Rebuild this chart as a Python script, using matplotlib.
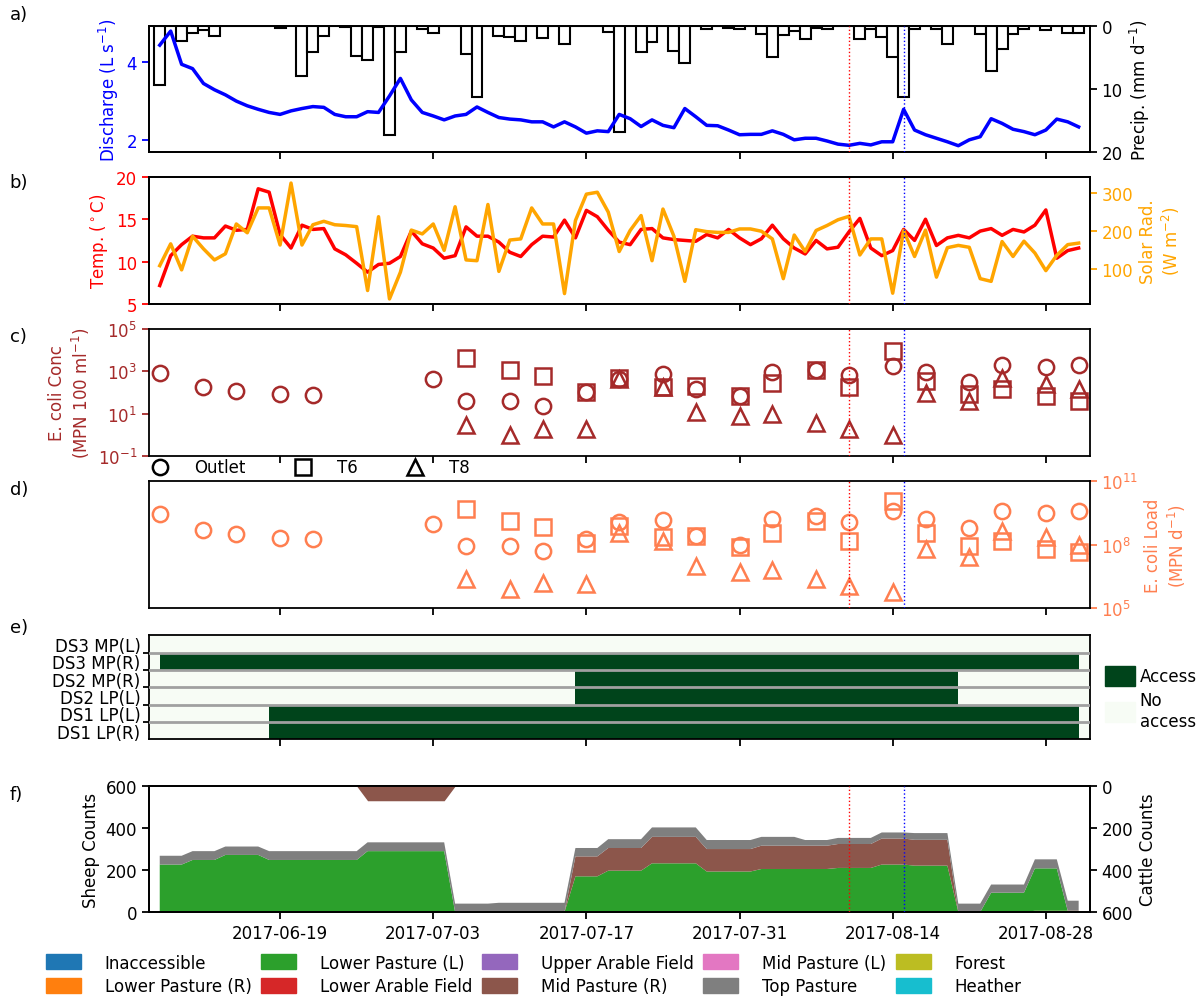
import numpy as np
import pandas as pd
import matplotlib
matplotlib.use("Agg")
import matplotlib.pyplot as plt
import matplotlib.dates as mdates
from matplotlib.patches import Patch
from matplotlib.lines import Line2D
from matplotlib.ticker import NullLocator

plt.rcParams["font.family"] = ["DejaVu Sans"]
plt.rcParams["font.size"] = 12
plt.rcParams["axes.linewidth"] = 1.3
plt.rcParams["xtick.major.width"] = 1.3
plt.rcParams["ytick.major.width"] = 1.3
plt.rcParams["xtick.major.size"] = 5
plt.rcParams["ytick.major.size"] = 5

#%% daily data (2017-06-08 .. 2017-08-31)
dates = pd.date_range("2017-06-08", "2017-08-31", freq="D")

discharge = [4.43, 4.79, 3.94, 3.83, 3.45, 3.29, 3.16, 3.00, 2.88, 2.79,
             2.71, 2.66, 2.75, 2.81, 2.86, 2.84, 2.66, 2.60, 2.60, 2.73,
             2.71, 3.13, 3.58, 3.03, 2.71, 2.62, 2.52, 2.62, 2.66, 2.85,
             2.71, 2.58, 2.54, 2.52, 2.47, 2.47, 2.34, 2.47, 2.34, 2.18,
             2.24, 2.22, 2.66, 2.55, 2.35, 2.52, 2.38, 2.32, 2.81, 2.60,
             2.38, 2.37, 2.26, 2.14, 2.15, 2.15, 2.24, 2.15, 2.01, 2.05,
             2.05, 1.98, 1.90, 1.87, 1.92, 1.88, 1.96, 1.96, 2.79, 2.26,
             2.14, 2.05, 1.96, 1.86, 2.01, 2.09, 2.55, 2.43, 2.28, 2.22,
             2.14, 2.26, 2.54, 2.47, 2.34]

precip = [9.3, 0, 2.4, 1.1, 0.6, 1.6, 0, 0, 0, 0,
          0, 0.3, 0, 7.9, 4.1, 1.6, 0, 0.2, 4.8, 5.4,
          0.2, 17.3, 4.1, 0, 0.4, 1.1, 0, 0, 4.4, 11.3,
          0, 1.6, 1.7, 2.4, 0, 1.9, 0, 2.8, 0, 0,
          0, 0.9, 16.9, 0, 4.1, 2.6, 0, 3.9, 5.9, 0,
          0.5, 0, 0.3, 0.5, 0, 1.3, 4.9, 1.5, 0.8, 2.0,
          0.3, 0.5, 0, 0, 2.0, 0.4, 1.7, 4.9, 11.3, 0.4,
          0, 0.5, 2.8, 0, 0, 1.2, 7.2, 3.6, 1.3, 0.4,
          0, 0.6, 0, 1.1, 1.1]

temp = [7.17, 10.7, 12.0, 13.0, 12.8, 12.8, 14.2, 13.7, 13.8, 18.6,
        18.2, 13.2, 11.6, 14.3, 13.8, 13.9, 11.5, 10.8, 9.8, 8.75,
        9.66, 9.8, 10.6, 13.6, 12.1, 11.6, 10.4, 10.7, 14.1, 13.0,
        13.0, 12.3, 11.1, 10.6, 12.0, 13.0, 12.9, 14.9, 12.8, 16.05,
        15.3, 13.7, 12.3, 12.0, 13.8, 13.9, 12.8, 12.6, 12.5, 12.4,
        13.2, 12.8, 13.8, 12.8, 12.0, 12.7, 14.3, 12.7, 11.6, 10.9,
        12.5, 11.5, 11.7, 13.5, 15.1, 11.6, 10.7, 11.3, 13.8, 12.5,
        15.0, 11.9, 12.8, 13.1, 12.8, 13.6, 13.9, 13.1, 13.8, 13.5,
        14.3, 16.1, 10.4, 11.3, 11.6]

solar = [110, 167, 99, 187, 154, 125, 141, 219, 196, 261,
         261, 164, 326, 164, 217, 226, 217, 215, 212, 45,
         238, 23, 93, 203, 193, 219, 150, 264, 125, 123,
         270, 95, 177, 180, 261, 219, 219, 37, 228, 297,
         302, 250, 147, 202, 241, 123, 258, 187, 69, 204,
         199, 197, 197, 206, 206, 200, 180, 76, 190, 147,
         202, 215, 230, 239, 138, 180, 180, 38, 202, 134,
         203, 80, 157, 163, 158, 76, 69, 173, 134, 174,
         143, 97, 137, 165, 169]

#%% E. coli sampling
sample_dates = ["2017-06-08", "2017-06-12", "2017-06-15", "2017-06-19", "2017-06-22",
                "2017-07-03", "2017-07-06", "2017-07-10", "2017-07-13", "2017-07-17",
                "2017-07-20", "2017-07-24", "2017-07-27", "2017-07-31", "2017-08-03",
                "2017-08-07", "2017-08-10", "2017-08-14", "2017-08-17", "2017-08-21",
                "2017-08-24", "2017-08-28", "2017-08-31"]
trib_dates = sample_dates[6:]

conc_outlet = [790, 174, 120, 83, 74, 457, 40, 40, 23, 100, 450, 740, 154, 65,
               890, 1170, 660, 1820, 890, 330, 1950, 1620, 1950]
conc_t6 = [4070, 1170, 570, 100, 500, 174, 204, 69, 295, 1170, 174, 9300, 355,
           83, 145, 65, 40]
conc_t8 = [2.8, 0.95, 1.8, 1.8, 430, 174, 12, 7.7, 9.3, 3.8, 1.8, 0.95, 93, 40,
           510, 245, 145]

load_outlet = [2.9e9, 5.0e8, 3.1e8, 2.0e8, 1.8e8, 9.8e8, 8.7e7, 8.7e7, 4.8e7, 1.8e8,
               1.1e9, 1.5e9, 2.6e8, 9.3e7, 1.6e9, 2.2e9, 1.1e9, 3.9e9, 1.6e9, 5.8e8,
               3.9e9, 3.2e9, 3.9e9]
load_t6 = [4.7e9, 1.3e9, 6.5e8, 1.2e8, 7.6e8, 2.2e8, 2.6e8, 7.9e7, 3.7e8, 1.3e9,
           1.5e8, 1.15e10, 3.5e8, 8.1e7, 1.5e8, 6.2e7, 4.6e7]
load_t8 = [2.4e6, 8.1e5, 1.5e6, 1.4e6, 3.7e8, 1.5e8, 1.0e7, 4.9e6, 6.3e6, 2.4e6,
           1.1e6, 5.6e5, 6.2e7, 2.5e7, 4.5e8, 2.2e8, 1.0e8]

#%% field access
access_rows = ["DS3 MP(L)", "DS3 MP(R)", "DS2 MP(R)", "DS2 LP(L)", "DS1 LP(L)", "DS1 LP(R)"]
access_start = [None, "2017-06-08", "2017-07-16", "2017-07-16", "2017-06-18", "2017-06-18"]
access_end = [None, "2017-08-31", "2017-08-20", "2017-08-20", "2017-08-31", "2017-08-31"]

#%% livestock counts
categories = ["Inaccessible", "Lower Pasture (R)", "Lower Pasture (L)", "Lower Arable Field",
              "Upper Arable Field", "Mid Pasture (R)", "Mid Pasture (L)", "Top Pasture",
              "Forest", "Heather"]

sheep_lower_l = [226, 226, 226, 248, 248, 248, 272, 272, 272, 272,
                 248, 248, 248, 248, 248, 248, 248, 248, 248, 290,
                 290, 290, 290, 290, 290, 290, 290, 0, 0, 0,
                 0, 0, 0, 0, 0, 0, 0, 0, 170, 170,
                 170, 197, 197, 197, 197, 232, 232, 232, 232, 232,
                 193, 193, 193, 193, 193, 205, 205, 205, 205, 205,
                 205, 205, 210, 210, 210, 210, 226, 226, 226, 221,
                 221, 221, 221, 0, 0, 0, 92, 92, 92, 92,
                 202, 202, 202, 0, 0]
sheep_lower_r = [0, 0, 0, 0, 0, 0, 0, 0, 0, 0,
                 0, 0, 0, 0, 0, 0, 0, 0, 0, 0,
                 0, 0, 0, 0, 0, 0, 0, 0, 0, 0,
                 0, 0, 0, 0, 0, 0, 0, 0, 0, 0,
                 0, 0, 0, 0, 0, 0, 0, 0, 0, 0,
                 0, 0, 0, 0, 0, 0, 0, 0, 0, 0,
                 0, 0, 0, 0, 0, 0, 0, 0, 0, 0,
                 0, 0, 0, 0, 0, 0, 0, 0, 0, 0,
                 6, 6, 6, 6, 6]
sheep_mid_r = [0, 0, 0, 0, 0, 0, 0, 0, 0, 0,
               0, 0, 0, 0, 0, 0, 0, 0, 0, 0,
               0, 0, 0, 0, 0, 0, 0, 0, 0, 0,
               0, 0, 0, 0, 0, 0, 0, 0, 95, 95,
               95, 108, 108, 108, 108, 126, 126, 126, 126, 126,
               107, 107, 107, 107, 107, 111, 111, 111, 111, 111,
               111, 111, 114, 114, 114, 114, 124, 124, 124, 123,
               123, 123, 123, 0, 0, 0, 0, 0, 0, 0,
               0, 0, 0, 0, 0]
sheep_top = [42, 42, 42, 42, 42, 42, 40, 40, 40, 40,
             42, 42, 42, 42, 42, 42, 42, 42, 42, 42,
             42, 42, 42, 42, 42, 42, 42, 40, 40, 40,
             40, 44, 44, 44, 44, 44, 44, 44, 40, 40,
             40, 42, 42, 42, 42, 45, 45, 45, 45, 45,
             43, 43, 43, 43, 43, 42, 42, 42, 42, 27,
             27, 27, 29, 29, 29, 29, 29, 29, 29, 32,
             32, 32, 32, 40, 40, 40, 39, 39, 39, 39,
             43, 43, 43, 48, 48]
cattle_mid_r = [0, 0, 0, 0, 0, 0, 0, 0, 0, 0,
                0, 0, 0, 0, 0, 0, 0, 0, 0, 70,
                70, 70, 70, 70, 70, 70, 70, 0, 0, 0,
                0, 0, 0, 0, 0, 0, 0, 0, 0, 0,
                0, 0, 0, 0, 0, 0, 0, 0, 0, 0,
                0, 0, 0, 0, 0, 0, 0, 0, 0, 0,
                0, 0, 0, 0, 0, 0, 0, 0, 0, 0,
                0, 0, 0, 0, 0, 0, 0, 0, 0, 0,
                0, 0, 0, 0, 0]

tick_dates = ["2017-06-19", "2017-07-03", "2017-07-17", "2017-07-31", "2017-08-14", "2017-08-28"]
event_dates = ["2017-08-10", "2017-08-15"]
event_colors = ["red", "blue"]

#%% plotting
x = mdates.date2num(dates)
sx = mdates.date2num(pd.to_datetime(sample_dates))
tx = mdates.date2num(pd.to_datetime(trib_dates))
ex = mdates.date2num(pd.to_datetime(event_dates))
xlim = mdates.date2num(pd.to_datetime(["2017-06-07", "2017-09-01"]))

brown = "#a52a2a"
coral = "#ff7f50"
access_color = "#00441b"
no_access_color = "#f7fcf5"
tab10 = plt.get_cmap("tab10").colors

fig = plt.figure(figsize=(12, 10.03), dpi=100)
L, W = 0.124, 0.784
ax_a = fig.add_axes([L, 0.8475, W, 0.1256])
ax_b = fig.add_axes([L, 0.696, W, 0.1266])
ax_c = fig.add_axes([L, 0.5444, W, 0.1266])
ax_d = fig.add_axes([L, 0.3928, W, 0.1266])
ax_e = fig.add_axes([L, 0.262, W, 0.1037])
ax_f = fig.add_axes([L, 0.0897, W, 0.1256])


def vlines(ax):
    for xv, c in zip(ex, event_colors):
        ax.axvline(xv, color=c, ls=":", lw=1, zorder=5)


# a) discharge + precip
ax_a2 = ax_a.twinx()
ax_a2.bar(x, precip, width=1.0, facecolor="white", edgecolor="black", linewidth=1.5)
ax_a2.set_ylim(20, 0)
ax_a2.set_yticks([0, 10, 20])
ax_a2.set_ylabel("Precip. (mm d$^{-1}$)")
ax_a.set_zorder(ax_a2.get_zorder() + 1)
ax_a.patch.set_visible(False)
ax_a.plot(x, discharge, color="blue", lw=2.5)
ax_a.set_ylim(1.7, 4.92)
ax_a.set_yticks([2, 4])
ax_a.set_ylabel("Discharge (L s$^{-1}$)", color="blue")
ax_a.tick_params(axis="y", colors="blue")
vlines(ax_a)

# b) temperature + solar radiation
ax_b.plot(x, temp, color="red", lw=2.5)
ax_b.set_ylim(5, 20)
ax_b.set_yticks([5, 10, 15, 20])
ax_b.set_ylabel(r"Temp. ($^\circ$C)", color="red")
ax_b.tick_params(axis="y", colors="red")
ax_b2 = ax_b.twinx()
ax_b2.plot(x, solar, color="orange", lw=2.5)
ax_b2.set_ylim(10, 342)
ax_b2.set_yticks([100, 200, 300])
ax_b2.set_ylabel("Solar Rad.\n(W m$^{-2}$)", color="orange")
ax_b2.tick_params(axis="y", colors="orange")
vlines(ax_b2)

# c) E. coli concentration
mk = dict(ls="none", mfc="none", ms=11, mew=1.8)
ax_c.plot(sx, conc_outlet, marker="o", mec=brown, **mk)
ax_c.plot(tx, conc_t6, marker="s", mec=brown, **mk)
ax_c.plot(tx, conc_t8, marker="^", mec=brown, **mk)
ax_c.set_yscale("log")
ax_c.set_ylim(1e-1, 1e5)
ax_c.set_yticks([1e-1, 1e1, 1e3, 1e5])
ax_c.yaxis.set_minor_locator(NullLocator())
ax_c.set_ylabel("E. coli Conc\n(MPN 100 ml$^{-1}$)", color=brown)
ax_c.tick_params(axis="y", colors=brown)
vlines(ax_c)
handles = [Line2D([], [], marker=m, color="black", **mk) for m in ["o", "s", "^"]]
ax_c.legend(handles, ["Outlet", "T6", "T8"], loc="center left", bbox_to_anchor=(0, -0.09),
            ncol=3, frameon=False, borderaxespad=0, handlelength=0.5,
            handletextpad=1.8, columnspacing=3.2)

# d) E. coli load
ax_d.plot(sx, load_outlet, marker="o", mec=coral, **mk)
ax_d.plot(tx, load_t6, marker="s", mec=coral, **mk)
ax_d.plot(tx, load_t8, marker="^", mec=coral, **mk)
ax_d.set_yscale("log")
ax_d.set_ylim(1e5, 1e11)
ax_d.set_yticks([1e5, 1e8, 1e11])
ax_d.yaxis.set_minor_locator(NullLocator())
ax_d.yaxis.tick_right()
ax_d.yaxis.set_label_position("right")
ax_d.set_ylabel("E. coli Load\n(MPN d$^{-1}$)", color=coral)
ax_d.tick_params(axis="y", colors=coral)
vlines(ax_d)

# e) access
ax_e.set_facecolor(no_access_color)
for i, (s, e) in enumerate(zip(access_start, access_end)):
    if s is None:
        continue
    x0, x1 = mdates.date2num(pd.to_datetime([s, e]))
    ax_e.barh(i, x1 - x0, left=x0, height=1.0, color=access_color)
ax_e.set_ylim(len(access_rows) - 0.5, -0.5)
ax_e.set_yticks(range(len(access_rows)))
ax_e.set_yticklabels(access_rows)
ax_e.tick_params(axis="y", which="major", length=0, pad=6)
ax_e.set_yticks(np.arange(0.5, len(access_rows) - 1, 1), minor=True)
ax_e.tick_params(axis="y", which="minor", length=4, width=1.3)
ax_e.grid(axis="y", which="minor", color="#a0a0a0", lw=2)
ax_e.set_axisbelow(False)
ax_e.legend([Patch(color=access_color), Patch(color=no_access_color)],
            ["Access", "No\naccess"], loc="center left", bbox_to_anchor=(1.0, 0.4),
            frameon=False, handlelength=1.8, handleheight=1.5, labelspacing=0.3,
            handletextpad=0.3)

# f) livestock
sheep = {"Lower Pasture (R)": sheep_lower_r, "Lower Pasture (L)": sheep_lower_l,
         "Mid Pasture (R)": sheep_mid_r, "Top Pasture": sheep_top}
stack = [sheep.get(c, np.zeros(len(x))) for c in categories]
ax_f.stackplot(x, stack, colors=tab10, linewidth=0)
ax_f.set_ylim(0, 600)
ax_f.set_yticks([0, 200, 400, 600])
ax_f.set_ylabel("Sheep Counts")
ax_f2 = ax_f.twinx()
ax_f2.fill_between(x, 0, cattle_mid_r, color=tab10[5], linewidth=0)
ax_f2.set_ylim(600, 0)
ax_f2.set_yticks([0, 200, 400, 600])
ax_f2.set_ylabel("Cattle Counts")
vlines(ax_f2)

txk = mdates.date2num(pd.to_datetime(tick_dates))
for ax in [ax_a, ax_b, ax_c, ax_d, ax_e, ax_f]:
    ax.set_xlim(xlim)
    ax.set_xticks(txk)
    ax.xaxis.set_major_formatter(mdates.DateFormatter("%Y-%m-%d"))
    if ax is not ax_f:
        ax.tick_params(axis="x", labelbottom=False)

fig.legend([Patch(color=tab10[i]) for i in range(len(categories))], categories,
           loc="upper left", bbox_to_anchor=(0.033, 0.055), ncol=5, frameon=False,
           handlelength=2.1, handleheight=1.0, handletextpad=1.4, columnspacing=0.6,
           labelspacing=0.35, borderaxespad=0)

for lab, yy in zip(["a)", "b)", "c)", "d)", "e)", "f)"],
                   [0.985, 0.818, 0.664, 0.511, 0.374, 0.207]):
    fig.text(0.008, yy, lab, fontsize=13, va="center")

fig.savefig("out.png", dpi=100)
